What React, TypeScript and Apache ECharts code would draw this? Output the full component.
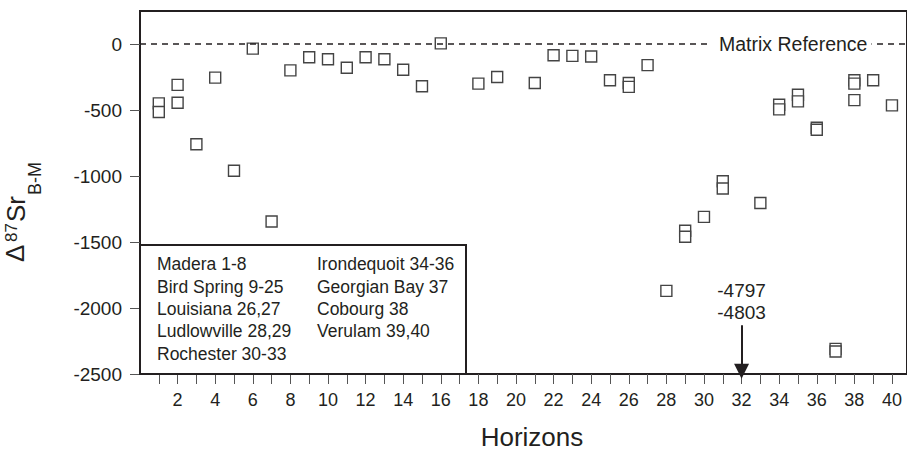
import React, { useEffect, useRef } from "react";
import * as echarts from "echarts";

// ---- data ----
const horizons = [1, 1, 2, 2, 3, 4, 5, 6, 7, 8, 9, 10, 11, 12, 13, 14, 15, 16, 18, 19, 21, 22, 23, 24, 25, 26, 26, 27, 28, 29, 29, 30, 31, 31, 33, 34, 34, 35, 35, 36, 36, 37, 37, 38, 38, 38, 39, 40];
const deltaSr = [-450, -515, -310, -445, -760, -255, -960, -35, -1345, -200, -100, -115, -180, -100, -115, -195, -320, 5, -300, -250, -295, -85, -90, -95, -275, -295, -325, -160, -1870, -1415, -1460, -1310, -1040, -1095, -1205, -460, -495, -385, -435, -635, -650, -2310, -2330, -275, -300, -425, -275, -465];

const xTickValues = [1, 2, 3, 4, 5, 6, 7, 8, 9, 10, 11, 12, 13, 14, 15, 16, 17, 18, 19, 20, 21, 22, 23, 24, 25, 26, 27, 28, 29, 30, 31, 32, 33, 34, 35, 36, 37, 38, 39, 40];
const xLabelValues = [2, 4, 6, 8, 10, 12, 14, 16, 18, 20, 22, 24, 26, 28, 30, 32, 34, 36, 38, 40];
const yTickValues = [-2500, -2000, -1500, -1000, -500, 0];

const matrixReference = 0;
const offScaleHorizon = 32;
const offScaleValues = [-4797, -4803];
const arrowFrom = -2130;
const arrowTo = -2480;

const legendCol1 = ["Madera 1-8", "Bird Spring 9-25", "Louisiana 26,27", "Ludlowville 28,29", "Rochester 30-33"];
const legendCol2 = ["Irondequoit 34-36", "Georgian Bay 37", "Cobourg 38", "Verulam 39,40"];

const FONT = "'Liberation Sans', Arial, Helvetica, sans-serif";
const INK = "#231f20";

export default function App() {
  const ref = useRef<HTMLDivElement>(null);

  useEffect(() => {
    if (!ref.current) return;
    const chart = echarts.init(ref.current, undefined, { renderer: "svg" });
    const points = horizons.map((h, i) => [h, deltaSr[i]]);

    chart.setOption({
      animation: false,
      backgroundColor: "#fff",
      textStyle: { fontFamily: FONT },
      grid: {
        left: 140,
        top: 11,
        width: 770,
        height: 363,
        show: true,
        borderColor: INK,
        borderWidth: 2,
        backgroundColor: "transparent",
      },
      xAxis: {
        type: "value",
        min: 0,
        max: 40.8,
        interval: 1,
        splitLine: { show: false },
        axisLine: { show: true, onZero: false, lineStyle: { color: INK, width: 2 } },
        axisTick: {
          show: true,
          length: 10,
          customValues: xTickValues,
          lineStyle: { color: "#555", width: 1 },
        },
        axisLabel: {
          customValues: xLabelValues,
          fontSize: 18,
          color: INK,
          margin: 17,
          fontFamily: FONT,
        },
      },
      yAxis: {
        type: "value",
        min: -2500,
        max: 250,
        interval: 500,
        splitLine: { show: false },
        axisLine: { show: true, onZero: false, lineStyle: { color: INK, width: 2 } },
        axisTick: {
          show: true,
          length: 10,
          customValues: yTickValues,
          lineStyle: { color: "#555", width: 1 },
        },
        axisLabel: {
          customValues: yTickValues,
          formatter: (v: number) => String(v),
          fontSize: 19,
          color: INK,
          margin: 18,
          fontFamily: FONT,
        },
      },
      series: [
        {
          type: "scatter",
          z: 1,
          data: [],
          markLine: {
            silent: true,
            symbol: "none",
            label: { show: false },
            emphasis: { disabled: true },
            lineStyle: { type: [6, 5], color: INK, width: 1.5 },
            data: [{ yAxis: matrixReference }],
          },
        },
        {
          type: "scatter",
          z: 3,
          data: points,
          symbol: "rect",
          symbolSize: 11,
          itemStyle: { color: "#fff", borderColor: "#444", borderWidth: 1.4, opacity: 1 },
          emphasis: { disabled: true },
        },
        {
          type: "scatter",
          z: 4,
          data: [],
          markLine: {
            silent: true,
            symbol: ["none", "triangle"],
            symbolSize: [15, 15],
            emphasis: { disabled: true },
            lineStyle: { type: "solid", color: INK, width: 2 },
            label: {
              show: true,
              position: "start",
              distance: 2,
              formatter: offScaleValues.join("\n"),
              fontSize: 19,
              lineHeight: 21.6,
              color: INK,
              fontFamily: FONT,
            },
            data: [[{ coord: [offScaleHorizon, arrowFrom] }, { coord: [offScaleHorizon, arrowTo] }]],
          },
        },
      ],
      graphic: [
        {
          type: "text",
          z: 100,
          x: 709,
          y: 44,
          style: {
            text: "Matrix Reference",
            fontSize: 19.5,
            fontFamily: FONT,
            fill: INK,
            verticalAlign: "middle",
            align: "left",
            backgroundColor: "#fff",
            padding: [2, 4, 2, 10],
          },
        },
        {
          type: "rect",
          z: 100,
          shape: { x: 140, y: 245, width: 326, height: 129 },
          style: { fill: "#fff", stroke: INK, lineWidth: 2 },
        },
        {
          type: "text",
          z: 101,
          x: 157,
          y: 253.2,
          style: {
            text: legendCol1.join("\n"),
            fontSize: 17.5,
            lineHeight: 22.35,
            fontFamily: FONT,
            fill: INK,
            verticalAlign: "top",
          },
        },
        {
          type: "text",
          z: 101,
          x: 317,
          y: 253.2,
          style: {
            text: legendCol2.join("\n"),
            fontSize: 17.5,
            lineHeight: 22.35,
            fontFamily: FONT,
            fill: INK,
            verticalAlign: "top",
          },
        },
        {
          type: "text",
          z: 100,
          x: 532,
          y: 437,
          style: {
            text: "Horizons",
            fontSize: 26,
            fontFamily: FONT,
            fill: INK,
            align: "center",
            verticalAlign: "middle",
          },
        },
        {
          type: "group",
          z: 100,
          children: [
            {
              type: "text",
              x: 15,
              y: 262,
              rotation: Math.PI / 2,
              style: { text: "Δ", fontSize: 26, fontFamily: FONT, fill: INK, align: "left", verticalAlign: "middle" },
            },
            {
              type: "text",
              x: 11,
              y: 242,
              rotation: Math.PI / 2,
              style: { text: "87", fontSize: 17, fontFamily: FONT, fill: INK, align: "left", verticalAlign: "middle" },
            },
            {
              type: "text",
              x: 15.5,
              y: 222,
              rotation: Math.PI / 2,
              style: { text: "Sr", fontSize: 26, fontFamily: FONT, fill: INK, align: "left", verticalAlign: "middle" },
            },
            {
              type: "text",
              x: 35,
              y: 195,
              rotation: Math.PI / 2,
              style: { text: "B-M", fontSize: 18, fontFamily: FONT, fill: INK, align: "left", verticalAlign: "middle" },
            },
          ],
        },
      ],
    });

    return () => chart.dispose();
  }, []);

  return (
    <div
      ref={ref}
      style={{ position: "fixed", left: 0, top: 0, width: 907, height: 458, background: "#fff" }}
    />
  );
}
